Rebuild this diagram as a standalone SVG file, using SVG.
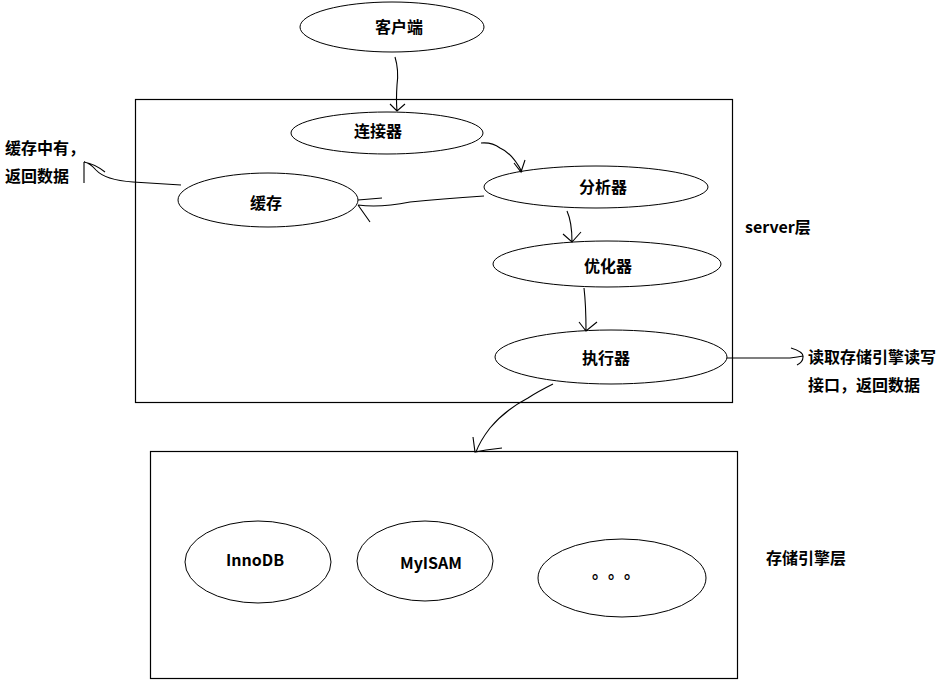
<svg xmlns="http://www.w3.org/2000/svg" width="940" height="680" viewBox="0 0 940 680">
<style>
.n{fill:#fff;stroke:#000;stroke-width:1}
.b{fill:none;stroke:#000;stroke-width:1.2}
.c{fill:none;stroke:#000;stroke-width:1.1}
text{font-family:"Noto Sans CJK SC","Microsoft YaHei","Liberation Sans",sans-serif;font-size:16px;font-weight:bold;fill:#000}
.m{text-anchor:middle}
</style>
<rect width="940" height="680" fill="#fff"/>
<g id="server-box"><rect class="b" x="135.5" y="99.5" width="597" height="303"/><text x="745" y="233">server层</text></g>
<g id="storage-box"><rect class="b" x="150.5" y="451.5" width="587" height="227"/><text x="766" y="564">存储引擎层</text></g>
<g id="client"><ellipse class="n" cx="392" cy="27" rx="92" ry="25"/><text class="m" x="399" y="33">客户端</text></g>
<g id="connector"><ellipse class="n" cx="387" cy="133" rx="96" ry="21"/><text class="m" x="378" y="137">连接器</text></g>
<g id="cache"><ellipse class="n" cx="268" cy="200" rx="90" ry="27"/><text class="m" x="266" y="209">缓存</text></g>
<g id="analyzer"><ellipse class="n" cx="596" cy="187" rx="112" ry="21"/><text class="m" x="603" y="193">分析器</text></g>
<g id="optimizer"><ellipse class="n" cx="607" cy="264" rx="114" ry="23"/><text class="m" x="608" y="272">优化器</text></g>
<g id="executor"><ellipse class="n" cx="611" cy="357" rx="116" ry="27"/><text class="m" x="606" y="364">执行器</text></g>
<g id="innodb"><ellipse class="n" cx="258" cy="562" rx="73" ry="41"/><text class="m" x="255" y="566">InnoDB</text></g>
<g id="myisam"><ellipse class="n" cx="425" cy="561" rx="68" ry="40"/><text class="m" x="431" y="569">MyISAM</text></g>
<g id="others"><ellipse class="n" cx="622" cy="578" rx="84" ry="39"/><text x="592 608 624" y="578">。。。</text></g>
<g id="note-cache"><text x="5" y="154">缓存中有，</text><text x="5" y="182">返回数据</text></g>
<g id="note-exec"><text x="808" y="363">读取存储引擎读写</text><text x="808" y="391">接口，返回数据</text></g>
<g id="connectors">
<path class="c" d="M395 57 Q399 70 397 85 Q396 100 397 111 M390 104 L397 111 L405 104"/>
<path class="c" d="M481 143 Q492 142 500 148 Q512 153 522 172 M514 163 L521 172 L525 160"/>
<path class="c" d="M484 196 Q440 199 410 202 Q380 208 358 205 M358 200 L382 198 M358 205 L370 222"/>
<path class="c" d="M181 185 Q150 183 133 182 Q105 180 96 170 Q90 163 84 162 M84 162 L84 183 M84 162 Q95 164 105 172"/>
<path class="c" d="M567 211 Q572 222 572 242 M563 234 L572 242 L581 232"/>
<path class="c" d="M584 288 Q586 305 586 331 M579 322 L586 331 L597 322"/>
<path class="c" d="M727 358 L790 358 Q798 357 803 356 M791 348 Q804 352 803 357 Q803 362 797 365"/>
<path class="c" d="M553 384 Q537 392 528 398 Q505 410 490 428 Q480 441 476 452 M473 437 L475 452 L486 450 L502 448"/>
</g>
</svg>
